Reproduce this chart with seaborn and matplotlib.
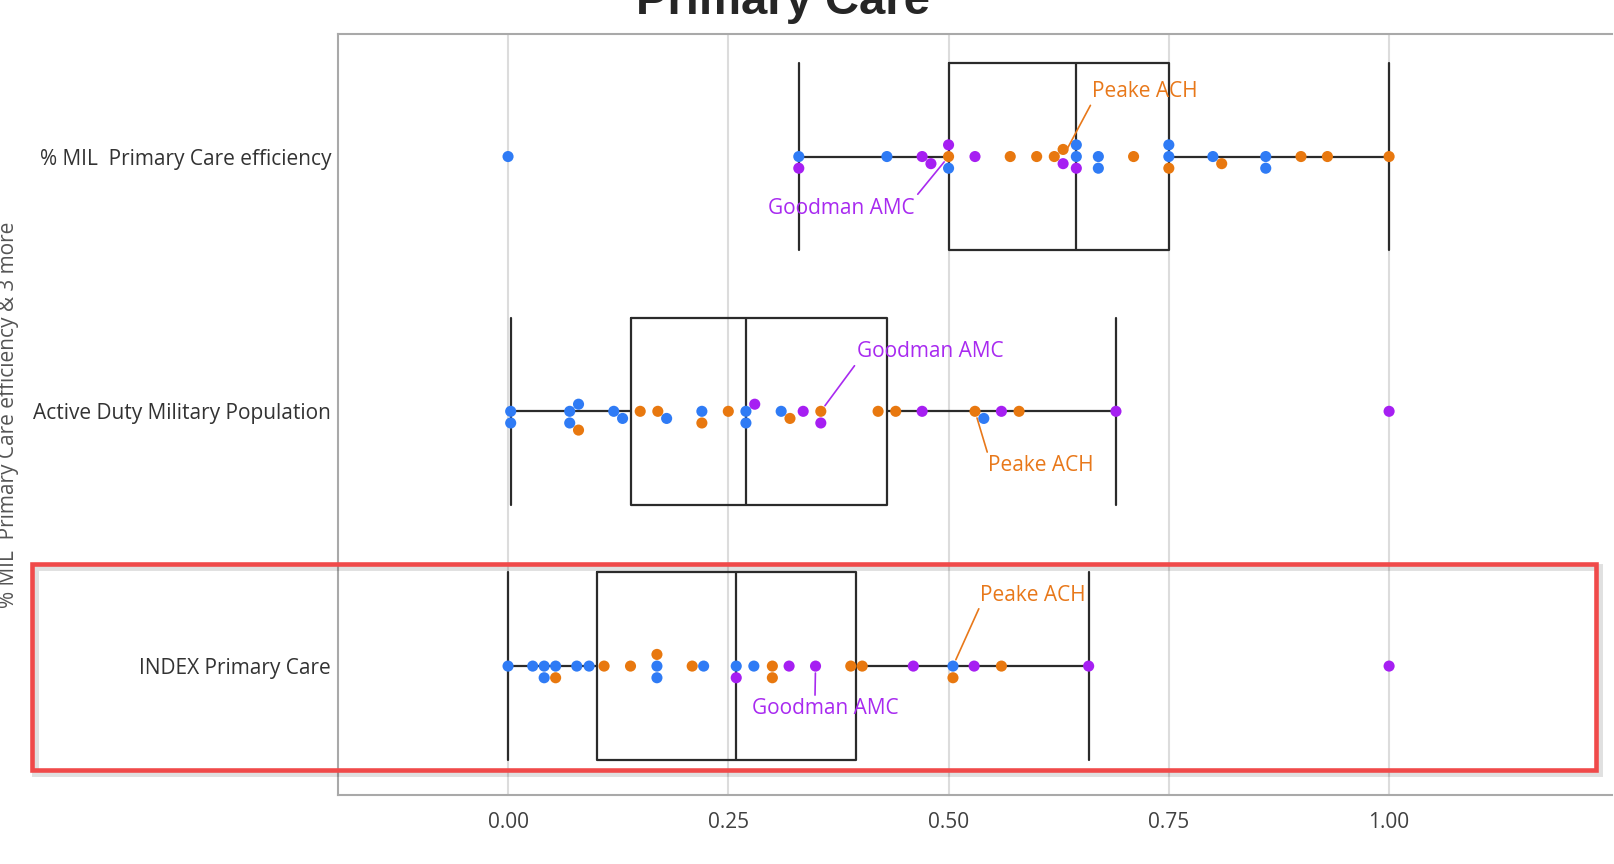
import pandas as pd
import seaborn as sns
import matplotlib.pyplot as plt
from matplotlib.patches import Rectangle

# rows of the chart (y categories)
metrics = ["% MIL  Primary Care efficiency",
           "Active Duty Military Population",
           "INDEX Primary Care"]

# facility groups (point colours), no legend in the original
groups = ["Group A", "Group B", "Group C"]
palette = {"Group A": "#2F7BF5", "Group B": "#E8780F", "Group C": "#A61FF2"}

# values, one list per row and group
eff_a = [0.00, 0.33, 0.43, 0.50, 0.645, 0.645, 0.67, 0.67, 0.75, 0.75, 0.80, 0.86, 0.86]
eff_b = [0.50, 0.57, 0.60, 0.62, 0.63, 0.71, 0.75, 0.81, 0.90, 0.93, 1.00]
eff_c = [0.33, 0.47, 0.48, 0.50, 0.53, 0.63, 0.645]

adm_a = [0.003, 0.003, 0.07, 0.07, 0.08, 0.12, 0.13, 0.18, 0.22, 0.27, 0.27, 0.31, 0.54]
adm_b = [0.08, 0.15, 0.17, 0.22, 0.25, 0.32, 0.355, 0.42, 0.44, 0.53, 0.58]
adm_c = [0.28, 0.335, 0.355, 0.47, 0.56, 0.69, 1.00]

idx_a = [0.00, 0.028, 0.041, 0.041, 0.054, 0.078, 0.092, 0.169, 0.169, 0.222, 0.259, 0.279, 0.505]
idx_b = [0.054, 0.109, 0.139, 0.169, 0.209, 0.30, 0.30, 0.389, 0.402, 0.505, 0.56]
idx_c = [0.259, 0.319, 0.349, 0.46, 0.529, 0.659, 1.00]

# labelled facilities: value in each row
peake_ach = [0.63, 0.53, 0.505]
goodman_amc = [0.50, 0.355, 0.349]

xticks = [0.0, 0.25, 0.5, 0.75, 1.0]
xticklabels = ["0.00", "0.25", "0.50", "0.75", "1.00"]

rows = []
for metric, vals in zip(metrics, [(eff_a, eff_b, eff_c),
                                  (adm_a, adm_b, adm_c),
                                  (idx_a, idx_b, idx_c)]):
    for g, v in zip(groups, vals):
        rows += [(metric, g, x) for x in v]
df = pd.DataFrame(rows, columns=["metric", "group", "value"])

sns.set_style("whitegrid", {"grid.color": "#DCDCDC", "axes.edgecolor": "#A9A9A9"})
plt.rcParams["font.family"] = ["Open Sans", "DejaVu Sans"]

fig = plt.figure(figsize=(16.14, 8.64), dpi=100)
ax = fig.add_axes([338 / 1614, 1 - 795 / 864, (1612 - 338) / 1614, (795 - 34) / 864])

sns.boxplot(data=df, x="value", y="metric", order=metrics, width=0.735, fill=False,
            color="#2B2B2B", linewidth=1.6, showfliers=False, capwidths=0.735, ax=ax)
sns.swarmplot(data=df, x="value", y="metric", order=metrics, hue="group",
              hue_order=groups, palette=palette, size=8, linewidth=0,
              legend=False, zorder=3, ax=ax)

# annotations: (label, colour, values, text positions, ha, relpos)
notes = [
    ("Peake ACH", "#E8781A", peake_ach,
     [(0.663, -0.255, "left", (0, 0)), (0.545, 1.214, "left", (0, 1)), (0.536, 1.721, "left", (0, 0))]),
    ("Goodman AMC", "#A82AF0", goodman_amc,
     [(0.462, 0.202, "right", (1, 1)), (0.396, 0.767, "left", (0, 0)), (0.36, 2.168, "center", (0.43, 1))]),
]
for label, c, vals, spots in notes:
    for i, (v, (tx, ty, ha, rp)) in enumerate(zip(vals, spots)):
        ax.annotate(label, xy=(v, i), xytext=(tx, ty), textcoords="data",
                    color=c, fontsize=15, ha=ha, va="center", zorder=4,
                    arrowprops=dict(arrowstyle="-", color=c, lw=1.2,
                                    shrinkA=0, shrinkB=5, relpos=rp))

ax.set_xlim(-0.193, 1.253)
ax.set_ylim(2.506, -0.481)
ax.set_xticks(xticks)
ax.set_xticklabels(xticklabels)
ax.tick_params(axis="x", length=8, width=1.5, color="#D0D0D0", labelsize=15,
               labelcolor="#404040", pad=4)
ax.tick_params(axis="y", length=0, labelsize=15, labelcolor="#333333", pad=5)
ax.yaxis.grid(False)
ax.xaxis.grid(True, linewidth=1.5)
ax.spines["right"].set_visible(False)
for s in ["left", "top", "bottom"]:
    ax.spines[s].set_linewidth(1.5)
ax.set_xlabel("")
ax.set_ylabel("% MIL  Primary Care efficiency & 3 more", fontsize=15, color="#555555")
ax.yaxis.set_label_coords(-0.2505, 0.5)

fig.text(0.485, 1 - 14 / 864, "Primary Care", ha="center", va="baseline",
         fontsize=34, fontweight="bold", family=["Liberation Sans", "DejaVu Sans"])

# red highlight around the last row
x0, y0, x1, y1 = 32 / 1614, 1 - 770 / 864, 1596 / 1614, 1 - 564 / 864
fig.add_artist(Rectangle((x0 + 0.002, y0 - 0.004), x1 - x0, y1 - y0, transform=fig.transFigure,
                         fill=False, ec="black", alpha=0.12, lw=5))
fig.add_artist(Rectangle((x0, y0), x1 - x0, y1 - y0, transform=fig.transFigure,
                         fill=False, ec="#F04A4A", lw=3.3))

fig.savefig("out.png", dpi=100)
